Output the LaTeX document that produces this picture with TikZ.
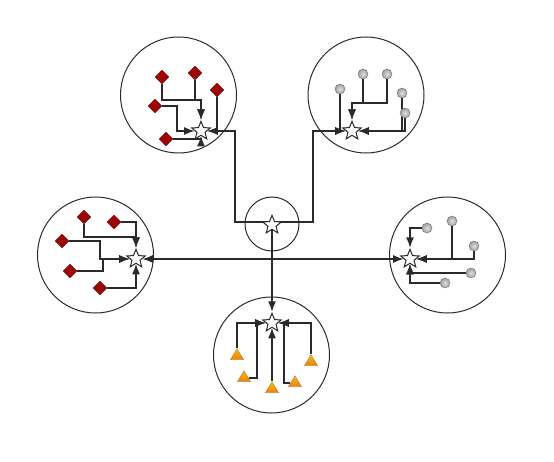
\documentclass[tikz,border=0pt]{standalone}
\usetikzlibrary{shapes.geometric,arrows.meta,backgrounds}
\definecolor{ink}{HTML}{2A2A2A}
\definecolor{dred}{HTML}{9A0707}
\definecolor{cone}{HTML}{E88A1A}
\tikzset{
  grp/.style={circle,draw=ink,line width=1pt,minimum size=116pt,inner sep=0pt},
  hubc/.style={circle,draw=ink,line width=1pt,minimum size=54pt,inner sep=0pt},
  starn/.style={star,star points=5,star point ratio=2.3,draw=ink,fill=white,line width=1pt,minimum size=19.5pt,inner sep=0pt},
  dia/.style={diamond,fill=dred,draw=dred!80!black,line width=0.3pt,minimum size=14pt,inner sep=0pt},
  sph/.style={circle,inner color=gray!25,outer color=gray!75,draw=gray!85!black,line width=0.4pt,minimum size=10pt,inner sep=0pt},
  con/.style={isosceles triangle,isosceles triangle apex angle=62,shape border rotate=90,top color=cone!55!yellow,bottom color=cone!90!red,draw=cone!80!black,line width=0.3pt,minimum height=11pt,minimum width=12pt,inner sep=0pt},
  edge/.style={draw=ink,line width=1.4pt,-{Latex[length=10.5pt,width=8pt]}}
}
\begin{document}
\begin{tikzpicture}[x=1pt,y=-1pt]
\useasboundingbox (0,0) rectangle (554,462);
% group circles
\node[grp] (gTL) at (178.5,95) {};
\node[grp] (gTR) at (366,95) {};
\node[grp] (gL) at (95.5,255) {};
\node[grp] (gR) at (447.5,255) {};
\node[grp] (gB) at (271.5,355) {};
\node[hubc] (gH) at (272,224) {};
% stars
\node[starn] (hub) at (272,225) {};
\node[starn] (tl) at (201,131) {};
\node[starn] (tr) at (352,131) {};
\node[starn] (l) at (136,259) {};
\node[starn] (r) at (410,259) {};
\node[starn] (b) at (272,323) {};
% top-left diamonds
\node[dia] (d1) at (162,77) {};
\node[dia] (d2) at (195,73) {};
\node[dia] (d3) at (217,90) {};
\node[dia] (d4) at (155,106) {};
\node[dia] (d5) at (166,139) {};
% top-right spheres
\node[sph] (s1) at (340,89) {};
\node[sph] (s2) at (363,74) {};
\node[sph] (s3) at (387,74) {};
\node[sph] (s4) at (402,93) {};
\node[sph] (s5) at (405,113) {};
% left diamonds
\node[dia] (e1) at (84,217) {};
\node[dia] (e2) at (114,222) {};
\node[dia] (e3) at (62,241) {};
\node[dia] (e4) at (70,271) {};
\node[dia] (e5) at (100,288) {};
% right spheres
\node[sph] (f1) at (427,228) {};
\node[sph] (f2) at (452,221) {};
\node[sph] (f3) at (474,246) {};
\node[sph] (f4) at (471,273) {};
\node[sph] (f5) at (445,283) {};
% bottom cones
\node[con] (c1) at (237,356) {};
\node[con] (c2) at (244,378) {};
\node[con] (c3) at (272,389) {};
\node[con] (c4) at (295,383) {};
\node[con] (c5) at (311,362) {};
% bend coordinates
\coordinate (h1) at (235,222);
\coordinate (h2) at (313,222);
\coordinate (tlj) at (201,100);
\coordinate (tlk) at (177,131);
\coordinate (trj) at (352,103);
\coordinate (lj) at (136,237);
\coordinate (lk) at (100,259);
\coordinate (lk2) at (103,259);
\coordinate (bk) at (257,323);
\coordinate (bk2) at (284,323);
\begin{scope}[on background layer]
% hub connections
\draw[edge] (hub.center) |- (h1) |- (tl);
\draw[edge] (hub.center) |- (h2) |- (tr);
\draw[edge] (hub.center) |- (l);
\draw[edge] (hub.center) |- (r);
\draw[edge] (hub.center) -- (b);
% top-left
\draw[edge] (d1) |- (tlj) -- (tl);
\draw[edge] (d2) |- (tlj) -- (tl);
\draw[edge] (d3) |- (tl);
\draw[edge] (d4) -| (tlk) -- (tl);
\draw[edge] (d5) -| (tl);
% top-right
\draw[edge] (s1) |- (tr);
\draw[edge] (s2) |- (trj) -- (tr);
\draw[edge] (s3) |- (trj) -- (tr);
\draw[edge] (s4) |- (tr);
\draw[edge] (s5) |- (tr);
% left
\draw[edge] (e1) |- (lj) -- (l);
\draw[edge] (e2) -| (lj) -- (l);
\draw[edge] (e3) -| (lk) -- (l);
\draw[edge] (e4) -| (lk2) -- (l);
\draw[edge] (e5) -| (l);
% right
\draw[edge] (f1) -| (r);
\draw[edge] (f2) |- (r);
\draw[edge] (f3) |- (r);
\draw[edge] (f4) -| (r);
\draw[edge] (f5) -| (r);
% bottom
\draw[edge] (c1) |- (b);
\draw[edge] (c2) -| (bk) -- (b);
\draw[edge] (c3) -- (b);
\draw[edge] (c4) -| (bk2) -- (b);
\draw[edge] (c5) |- (b);
\end{scope}
\end{tikzpicture}
\end{document}
